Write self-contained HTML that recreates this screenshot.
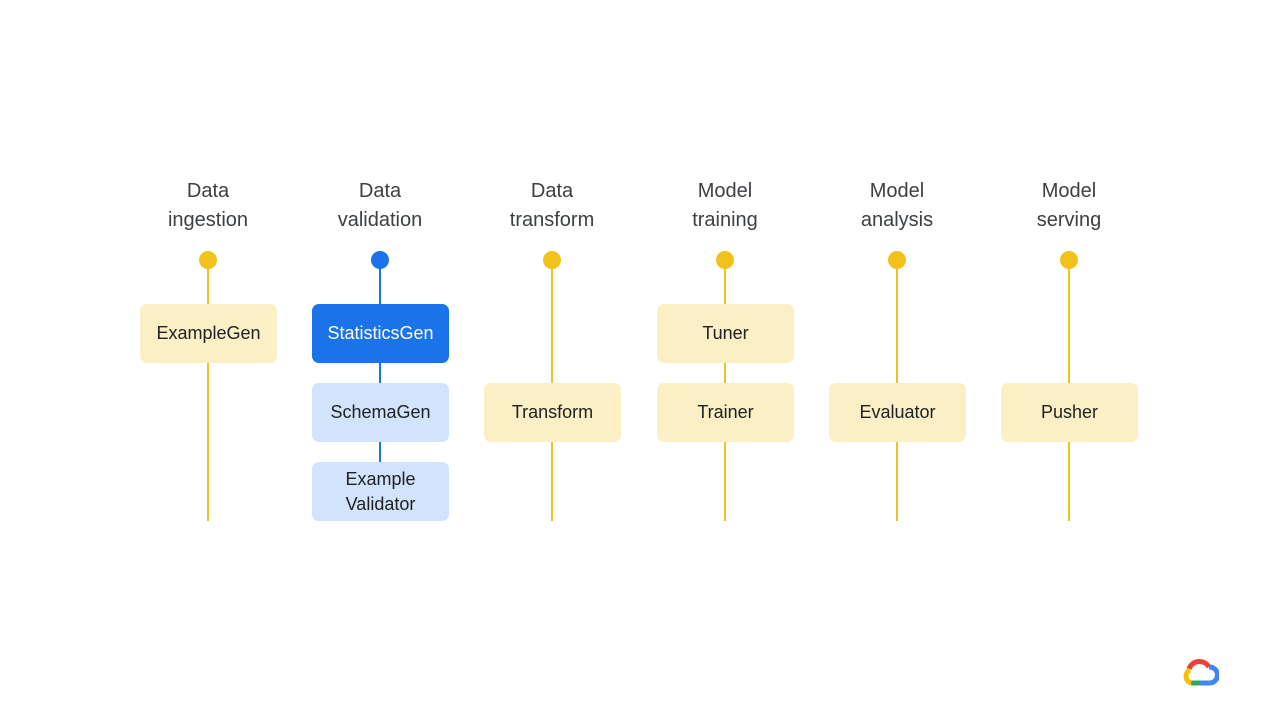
<!DOCTYPE html>
<html><head><style>
body{margin:0;width:1280px;height:720px;background:#fff;position:relative;overflow:hidden;font-family:"Liberation Sans",Arial,sans-serif}
.t{position:absolute;width:160px;text-align:center;font-size:20px;line-height:29px;color:#3c4043;top:177px}
.l{position:absolute;width:2px;background:#f1c21b}
.d{position:absolute;width:18px;height:18px;border-radius:50%;background:#f1c21b;top:251px}
.b{position:absolute;width:137px;height:59px;border-radius:7px;background:#fbefc5;display:flex;align-items:center;justify-content:center;text-align:center;font-size:18px;line-height:25px;color:#202124}
</style></head><body>
<div class="t" style="left:128px">Data<br>ingestion</div>
<div class="t" style="left:300px">Data<br>validation</div>
<div class="t" style="left:472px">Data<br>transform</div>
<div class="t" style="left:645px">Model<br>training</div>
<div class="t" style="left:817px">Model<br>analysis</div>
<div class="t" style="left:989px">Model<br>serving</div>

<div class="l" style="left:207px;top:260px;height:261px"></div>
<div class="l" style="left:379px;top:260px;height:202px;background:#1a73e8"></div>
<div class="l" style="left:551px;top:260px;height:261px"></div>
<div class="l" style="left:724px;top:260px;height:261px"></div>
<div class="l" style="left:896px;top:260px;height:261px"></div>
<div class="l" style="left:1068px;top:260px;height:261px"></div>

<div class="d" style="left:199px"></div>
<div class="d" style="left:371px;background:#1a73e8"></div>
<div class="d" style="left:543px"></div>
<div class="d" style="left:716px"></div>
<div class="d" style="left:888px"></div>
<div class="d" style="left:1060px"></div>

<div class="b" style="left:140px;top:304px">ExampleGen</div>
<div class="b" style="left:312px;top:304px;background:#1a73e8;color:#fff">StatisticsGen</div>
<div class="b" style="left:312px;top:383px;background:#d2e3fc">SchemaGen</div>
<div class="b" style="left:312px;top:462px;background:#d2e3fc">Example<br>Validator</div>
<div class="b" style="left:484px;top:383px">Transform</div>
<div class="b" style="left:657px;top:304px">Tuner</div>
<div class="b" style="left:657px;top:383px">Trainer</div>
<div class="b" style="left:829px;top:383px">Evaluator</div>
<div class="b" style="left:1001px;top:383px">Pusher</div>

<svg style="position:absolute;left:1181px;top:655px" width="38" height="32" viewBox="0 0 38 32">
<path d="M8 14 A11 11 0 0 1 28 12" fill="none" stroke="#ea4335" stroke-width="5"/>
<path d="M28 12 A8 8 0 0 1 29 28 L19 28" fill="none" stroke="#4285f4" stroke-width="5"/>
<path d="M19 28 L10 28" fill="none" stroke="#34a853" stroke-width="5"/>
<path d="M10 28 A7 7 0 0 1 9 15" fill="none" stroke="#fbbc04" stroke-width="5"/>
</svg>
</body></html>
